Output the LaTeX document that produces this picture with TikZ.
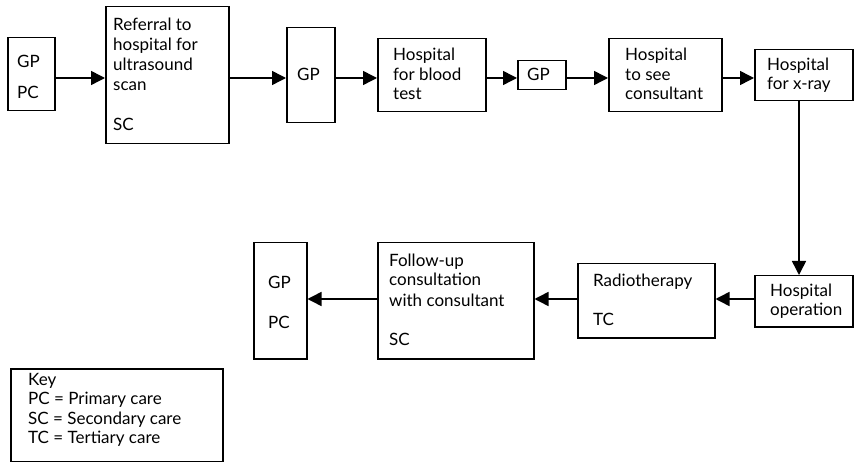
\documentclass[tikz,border=0pt]{standalone}
\usepackage{fontspec}
\setmainfont{Lato}
\usetikzlibrary{arrows.meta}
\begin{document}
\begin{tikzpicture}[x=1pt,y=-1pt,
  box/.style={draw=black,line width=1.5pt,rectangle,inner sep=0pt,anchor=north west},
  txt/.style={anchor=base west,inner sep=0pt,font=\fontsize{17}{19.5}\selectfont},
  flow/.style={draw=black,line width=1.5pt,-{Triangle[length=14pt,width=14pt]}}]
\useasboundingbox (0,0) rectangle (854,462);

% boxes: top row
\node[box,minimum width=47pt,minimum height=73pt]  (gpa)     at (7,37)   {};
\node[box,minimum width=123pt,minimum height=137pt] (refer)  at (105,6)  {};
\node[box,minimum width=48pt,minimum height=95pt]  (gpb)     at (286,27) {};
\node[box,minimum width=108pt,minimum height=73pt] (blood)   at (377,38) {};
\node[box,minimum width=48pt,minimum height=29pt]  (gpc)     at (517,60) {};
\node[box,minimum width=113pt,minimum height=73pt] (consult) at (608,38) {};
\node[box,minimum width=98pt,minimum height=51pt]  (xray)    at (754,49) {};
% boxes: bottom row
\node[box,minimum width=98pt,minimum height=51pt]  (oper)    at (754,275) {};
\node[box,minimum width=137pt,minimum height=74pt] (radio)   at (577,263) {};
\node[box,minimum width=156pt,minimum height=116pt] (follow) at (377,242) {};
\node[box,minimum width=53pt,minimum height=116pt] (gpd)     at (253,242) {};
% key
\node[box,minimum width=212pt,minimum height=93pt] (key)     at (10,368) {};

% texts
\node[txt] (gpa1) at (17,68) {GP};
\node[txt] (gpa2) at (17,99) {PC};

\node[txt] (refer1) at (113,31) {Referral to};
\node[txt] (refer2) at (113,51) {hospital for};
\node[txt] (refer3) at (113,71) {ultrasound};
\node[txt] (refer4) at (113,91) {scan};
\node[txt] (refer5) at (113,131) {SC};

\node[txt] (gpb1) at (297,81) {GP};

\node[txt] (blood1) at (393,61) {Hospital};
\node[txt] (blood2) at (393,81) {for blood};
\node[txt] (blood3) at (393,100) {test};

\node[txt] (gpc1) at (527,81) {GP};

\node[txt] (consult1) at (625,61) {Hospital};
\node[txt] (consult2) at (625,81) {to see};
\node[txt] (consult3) at (625,100) {consultant};

\node[txt] (xray1) at (767,71) {Hospital};
\node[txt] (xray2) at (767,90) {for x-ray};

\node[txt] (oper1) at (770,297) {Hospital};
\node[txt] (oper2) at (770,316) {operation};

\node[txt] (radio1) at (593,287) {Radiotherapy};
\node[txt] (radio2) at (593,326) {TC};

\node[txt] (follow1) at (389,267) {Follow-up};
\node[txt] (follow2) at (389,286) {consultation};
\node[txt] (follow3) at (389,306) {with consultant};
\node[txt] (follow4) at (389,345) {SC};

\node[txt] (gpd1) at (268,289) {GP};
\node[txt] (gpd2) at (268,328) {PC};

\node[txt] (key1) at (28,385) {Key};
\node[txt] (key2) at (28,404.5) {PC = Primary care};
\node[txt] (key3) at (28,424) {SC = Secondary care};
\node[txt] (key4) at (28,443.5) {TC = Tertiary care};

% connectors
\coordinate (toprow) at (0,78);
\coordinate (botrow) at (0,299);
\coordinate (drop) at (799,0);
\draw[flow] (gpa.east |- toprow) -- (refer.west |- toprow);
\draw[flow] (refer.east |- toprow) -- (gpb.west |- toprow);
\draw[flow] (gpb.east |- toprow) -- (blood.west |- toprow);
\draw[flow] (blood.east |- toprow) -- (gpc.west |- toprow);
\draw[flow] (gpc.east |- toprow) -- (consult.west |- toprow);
\draw[flow] (consult.east |- toprow) -- (xray.west |- toprow);
\draw[flow] (xray.south -| drop) -- (oper.north -| drop);
\draw[flow] (oper.west |- botrow) -- (radio.east |- botrow);
\draw[flow] (radio.west |- botrow) -- (follow.east |- botrow);
\draw[flow] (follow.west |- botrow) -- (gpd.east |- botrow);
\end{tikzpicture}
\end{document}
